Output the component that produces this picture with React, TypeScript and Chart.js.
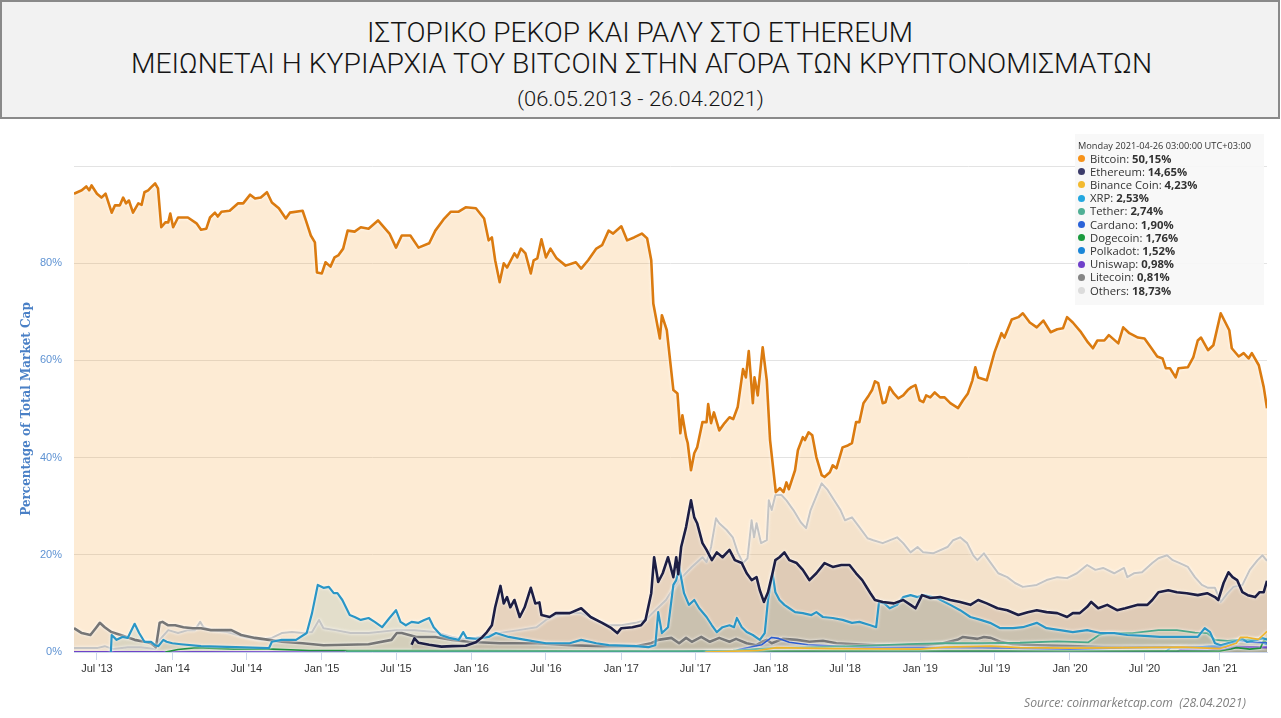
import React, { useEffect, useLayoutEffect, useRef } from "react";
import { Chart, registerables } from "chart.js";

Chart.register(...registerables);

// ---------------- DATA ----------------
const START_DATE = "2013-05-06";
const END_DATE = "2021-04-26";

const tickDates = [
  "2013-07-01", "2014-01-01", "2014-07-01", "2015-01-01", "2015-07-01", "2016-01-01",
  "2016-07-01", "2017-01-01", "2017-07-01", "2018-01-01", "2018-07-01", "2019-01-01",
  "2019-07-01", "2020-01-01", "2020-07-01", "2021-01-01",
];
const tickLabels = [
  "Jul '13", "Jan '14", "Jul '14", "Jan '15", "Jul '15", "Jan '16", "Jul '16", "Jan '17",
  "Jul '17", "Jan '18", "Jul '18", "Jan '19", "Jul '19", "Jan '20", "Jul '20", "Jan '21",
];
const yTickValues = [0, 20, 40, 60, 80, 100];

const bitcoin: [string, number][] = [
  ["2013-05-06", 94.3], ["2013-05-25", 95.0], ["2013-06-05", 95.8], ["2013-06-12", 95.0], ["2013-06-18", 96.0],
  ["2013-07-01", 94.3], ["2013-07-12", 93.5], ["2013-07-22", 94.3], ["2013-08-06", 90.4], ["2013-08-14", 91.9],
  ["2013-08-26", 91.9], ["2013-09-03", 93.5], ["2013-09-10", 92.3], ["2013-09-17", 92.9], ["2013-09-27", 90.4],
  ["2013-10-10", 92.3], ["2013-10-18", 92.0], ["2013-10-25", 94.6], ["2013-11-03", 95.0], ["2013-11-10", 95.6],
  ["2013-11-20", 96.4], ["2013-11-27", 95.4], ["2013-12-05", 87.4], ["2013-12-15", 88.4], ["2013-12-22", 88.4],
  ["2013-12-27", 90.2], ["2014-01-03", 87.4], ["2014-01-15", 89.4], ["2014-02-08", 89.4], ["2014-03-01", 88.2],
  ["2014-03-12", 86.9], ["2014-03-25", 87.1], ["2014-04-03", 89.4], ["2014-04-15", 90.4], ["2014-04-22", 89.6],
  ["2014-05-01", 90.6], ["2014-05-21", 90.8], ["2014-06-10", 92.3], ["2014-06-23", 92.3], ["2014-07-10", 94.1],
  ["2014-07-22", 93.3], ["2014-08-05", 93.5], ["2014-08-20", 94.6], ["2014-09-01", 92.5], ["2014-09-18", 91.3],
  ["2014-10-05", 89.2], ["2014-10-15", 90.4], ["2014-11-15", 90.8], ["2014-11-23", 88.8], ["2014-12-05", 85.7],
  ["2014-12-15", 84.3], ["2014-12-20", 78.1], ["2015-01-01", 77.9], ["2015-01-10", 80.2], ["2015-01-22", 79.3],
  ["2015-02-01", 81.2], ["2015-02-10", 81.6], ["2015-02-22", 83.0], ["2015-03-05", 86.7], ["2015-03-22", 86.5],
  ["2015-04-06", 87.4], ["2015-04-25", 87.1], ["2015-05-18", 88.8], ["2015-06-15", 86.1], ["2015-07-01", 83.2],
  ["2015-07-15", 85.7], ["2015-08-05", 85.7], ["2015-08-25", 83.2], ["2015-09-20", 84.1], ["2015-10-05", 86.7],
  ["2015-10-25", 89.0], ["2015-11-12", 90.6], ["2015-12-01", 90.6], ["2015-12-18", 91.5], ["2016-01-12", 91.3],
  ["2016-02-01", 89.2], ["2016-02-12", 84.7], ["2016-02-20", 85.3], ["2016-02-28", 80.6], ["2016-03-10", 76.1],
  ["2016-03-20", 80.0], ["2016-03-28", 79.1], ["2016-04-15", 82.0], ["2016-04-22", 81.2], ["2016-05-01", 83.0],
  ["2016-05-12", 82.0], ["2016-05-25", 77.9], ["2016-06-01", 80.6], ["2016-06-10", 81.0], ["2016-06-20", 84.9],
  ["2016-07-01", 81.2], ["2016-07-12", 83.0], ["2016-07-27", 81.0], ["2016-08-18", 79.5], ["2016-09-12", 80.2],
  ["2016-09-25", 78.9], ["2016-10-12", 80.6], ["2016-11-01", 83.0], ["2016-11-15", 83.7], ["2016-12-01", 86.7],
  ["2016-12-12", 86.1], ["2017-01-01", 87.6], ["2017-01-15", 84.7], ["2017-02-01", 85.3], ["2017-02-20", 86.1],
  ["2017-03-05", 85.1], ["2017-03-15", 80.6], ["2017-03-20", 71.7], ["2017-04-05", 64.5], ["2017-04-10", 69.3],
  ["2017-04-22", 66.2], ["2017-05-08", 53.9], ["2017-05-18", 53.2], ["2017-05-25", 45.0], ["2017-05-30", 48.7],
  ["2017-06-08", 44.2], ["2017-06-12", 43.0], ["2017-06-20", 37.4], ["2017-06-28", 40.9], ["2017-07-05", 42.1],
  ["2017-07-18", 47.3], ["2017-07-28", 47.3], ["2017-08-01", 51.0], ["2017-08-08", 47.1], ["2017-08-15", 49.3],
  ["2017-08-28", 45.6], ["2017-09-10", 47.1], ["2017-09-22", 48.3], ["2017-10-01", 47.9], ["2017-10-12", 50.4],
  ["2017-10-25", 58.2], ["2017-11-01", 56.5], ["2017-11-08", 61.9], ["2017-11-18", 51.2], ["2017-11-22", 56.5],
  ["2017-11-30", 52.8], ["2017-12-12", 62.7], ["2017-12-22", 55.9], ["2017-12-30", 43.6], ["2018-01-13", 32.9],
  ["2018-01-23", 33.7], ["2018-02-01", 32.9], ["2018-02-08", 34.9], ["2018-02-14", 33.5], ["2018-03-01", 37.4],
  ["2018-03-08", 41.5], ["2018-03-20", 44.2], ["2018-03-25", 43.6], ["2018-04-03", 45.2], ["2018-04-12", 44.6],
  ["2018-04-22", 40.1], ["2018-05-05", 36.4], ["2018-05-12", 36.0], ["2018-05-25", 37.0], ["2018-06-01", 38.4],
  ["2018-06-10", 37.8], ["2018-06-25", 42.1], ["2018-07-08", 42.5], ["2018-07-18", 43.0], ["2018-07-28", 47.3],
  ["2018-08-05", 47.3], ["2018-08-15", 51.2], ["2018-08-28", 52.8], ["2018-09-05", 53.9], ["2018-09-12", 55.7],
  ["2018-09-20", 55.3], ["2018-10-01", 51.2], ["2018-10-08", 51.4], ["2018-10-18", 54.5], ["2018-10-28", 53.2],
  ["2018-11-08", 52.2], ["2018-11-20", 52.8], ["2018-12-01", 53.9], ["2018-12-10", 54.5], ["2018-12-20", 54.9],
  ["2018-12-30", 51.8], ["2019-01-08", 51.4], ["2019-01-15", 52.8], ["2019-01-25", 52.4], ["2019-02-05", 53.4],
  ["2019-02-18", 52.4], ["2019-03-01", 52.4], ["2019-03-15", 51.2], ["2019-04-03", 50.2], ["2019-04-15", 51.8],
  ["2019-04-27", 53.2], ["2019-05-08", 55.9], ["2019-05-15", 58.6], ["2019-05-22", 56.5], ["2019-06-12", 55.9],
  ["2019-07-01", 61.7], ["2019-07-18", 65.6], ["2019-07-25", 64.7], ["2019-08-12", 68.4], ["2019-08-28", 68.9],
  ["2019-09-08", 69.7], ["2019-09-25", 67.8], ["2019-10-12", 66.8], ["2019-10-28", 68.2], ["2019-11-15", 65.8],
  ["2019-12-01", 66.4], ["2019-12-15", 66.6], ["2019-12-25", 68.9], ["2020-01-08", 67.8], ["2020-01-28", 65.8],
  ["2020-02-14", 63.7], ["2020-02-26", 62.5], ["2020-03-08", 64.1], ["2020-03-25", 64.1], ["2020-04-05", 65.2],
  ["2020-04-28", 63.5], ["2020-05-10", 66.8], ["2020-05-25", 65.6], ["2020-06-15", 64.7], ["2020-07-01", 64.5],
  ["2020-07-18", 62.5], ["2020-08-01", 60.8], ["2020-08-14", 60.4], ["2020-08-22", 58.4], ["2020-09-01", 58.4],
  ["2020-09-15", 56.5], ["2020-09-22", 58.4], ["2020-10-15", 58.6], ["2020-10-28", 60.6], ["2020-11-08", 64.1],
  ["2020-11-16", 64.7], ["2020-12-03", 62.1], ["2020-12-16", 63.1], ["2021-01-03", 69.7], ["2021-01-24", 66.2],
  ["2021-01-30", 62.5], ["2021-02-16", 60.8], ["2021-02-28", 61.5], ["2021-03-12", 60.4], ["2021-03-20", 61.5],
  ["2021-04-06", 59.0], ["2021-04-18", 54.5], ["2021-04-26", 50.15],
];

const ethereum: [string, number][] = [
  ["2015-08-08", 1.5], ["2015-08-15", 2.8], ["2015-08-25", 1.9], ["2015-09-20", 1.5], ["2015-10-20", 1.1],
  ["2015-11-15", 1.2], ["2015-12-18", 1.3], ["2016-01-12", 2.0], ["2016-01-28", 3.1], ["2016-02-08", 4.1],
  ["2016-02-20", 5.5], ["2016-02-28", 9.2], ["2016-03-12", 13.6], ["2016-03-20", 10.0], ["2016-03-28", 11.3],
  ["2016-04-05", 9.2], ["2016-04-15", 10.7], ["2016-04-28", 7.2], ["2016-05-10", 9.2], ["2016-05-25", 13.2],
  ["2016-06-05", 10.0], ["2016-06-15", 10.2], ["2016-06-20", 7.6], ["2016-07-10", 7.2], ["2016-07-25", 8.0],
  ["2016-08-28", 8.0], ["2016-09-25", 9.0], ["2016-10-18", 7.2], ["2016-11-15", 6.0], ["2016-12-08", 4.9],
  ["2016-12-22", 3.9], ["2017-01-01", 4.9], ["2017-01-28", 5.1], ["2017-02-18", 5.5], ["2017-03-01", 6.6],
  ["2017-03-15", 12.1], ["2017-03-22", 19.5], ["2017-04-01", 14.4], ["2017-04-12", 16.2], ["2017-04-25", 19.5],
  ["2017-05-08", 15.4], ["2017-05-15", 19.5], ["2017-05-20", 16.0], ["2017-05-27", 21.6], ["2017-06-08", 25.7],
  ["2017-06-20", 31.2], ["2017-06-28", 27.7], ["2017-07-05", 26.5], ["2017-07-18", 22.4], ["2017-07-28", 21.0],
  ["2017-08-10", 18.9], ["2017-08-22", 20.5], ["2017-09-05", 19.5], ["2017-09-22", 21.0], ["2017-10-05", 18.9],
  ["2017-10-22", 18.3], ["2017-11-03", 16.2], ["2017-11-15", 14.8], ["2017-11-27", 15.4], ["2017-12-05", 12.7],
  ["2017-12-15", 10.3], ["2017-12-25", 12.3], ["2018-01-05", 16.2], ["2018-01-12", 18.9], ["2018-01-22", 19.5],
  ["2018-02-03", 20.5], ["2018-02-15", 18.9], ["2018-03-05", 18.3], ["2018-03-20", 16.9], ["2018-04-05", 14.8],
  ["2018-04-22", 16.2], ["2018-05-12", 18.3], ["2018-06-01", 17.5], ["2018-06-22", 17.9], ["2018-07-12", 17.9],
  ["2018-07-28", 16.2], ["2018-08-12", 14.8], ["2018-09-01", 12.1], ["2018-09-12", 10.7], ["2018-10-01", 10.3],
  ["2018-10-28", 10.0], ["2018-11-20", 10.7], ["2018-12-08", 9.7], ["2018-12-20", 9.0], ["2019-01-05", 11.7],
  ["2019-01-25", 11.1], ["2019-02-18", 11.3], ["2019-03-15", 10.7], ["2019-04-08", 10.3], ["2019-05-03", 9.7],
  ["2019-05-22", 10.7], ["2019-06-12", 10.0], ["2019-07-08", 9.0], ["2019-08-01", 8.6], ["2019-08-28", 7.6],
  ["2019-09-20", 8.2], ["2019-10-12", 8.6], ["2019-11-05", 8.2], ["2019-12-01", 8.0], ["2019-12-25", 7.2],
  ["2020-01-08", 8.0], ["2020-01-25", 8.0], ["2020-02-12", 9.3], ["2020-02-22", 10.3], ["2020-03-10", 9.0],
  ["2020-04-01", 9.7], ["2020-04-25", 8.6], ["2020-05-15", 9.0], ["2020-06-15", 9.7], ["2020-07-08", 9.7],
  ["2020-07-20", 10.7], ["2020-08-04", 12.3], ["2020-08-28", 12.7], ["2020-09-18", 12.3], ["2020-10-12", 12.1],
  ["2020-11-08", 11.7], ["2020-12-01", 12.1], ["2020-12-20", 11.3], ["2020-12-28", 10.7], ["2021-01-10", 14.2],
  ["2021-01-22", 16.4], ["2021-02-01", 15.4], ["2021-02-12", 14.8], ["2021-02-25", 12.3], ["2021-03-10", 11.7],
  ["2021-03-28", 11.3], ["2021-04-08", 12.3], ["2021-04-18", 12.3], ["2021-04-26", 14.65],
];

const binanceCoin: [string, number][] = [
  ["2017-07-25", 0], ["2017-12-01", 0.3], ["2018-01-15", 0.9], ["2018-06-01", 0.7], ["2019-01-01", 0.6],
  ["2019-03-01", 1.0], ["2019-06-22", 1.2], ["2019-09-01", 0.9], ["2020-01-01", 0.8], ["2020-06-01", 0.9],
  ["2020-10-01", 1.0], ["2021-01-01", 0.7], ["2021-02-10", 1.8], ["2021-02-20", 3.0], ["2021-03-10", 3.0],
  ["2021-04-05", 2.6], ["2021-04-18", 3.6], ["2021-04-26", 4.23],
];

const xrp: [string, number][] = [
  ["2013-08-04", 0], ["2013-08-06", 3.5], ["2013-08-18", 2.5], ["2013-09-01", 3.1], ["2013-09-14", 2.9],
  ["2013-10-01", 5.8], ["2013-10-12", 3.9], ["2013-10-25", 2.1], ["2013-11-10", 2.1], ["2013-11-20", 1.4],
  ["2013-11-28", 1.2], ["2013-12-10", 2.5], ["2013-12-18", 2.1], ["2014-01-01", 1.8], ["2014-01-22", 1.6],
  ["2014-03-12", 1.2], ["2014-06-05", 1.0], ["2014-08-25", 0.8], ["2014-09-01", 2.1], ["2014-09-25", 2.5],
  ["2014-10-30", 2.5], ["2014-11-25", 3.9], ["2014-12-08", 8.0], ["2014-12-22", 13.8], ["2015-01-05", 13.2],
  ["2015-01-18", 13.4], ["2015-01-30", 12.1], ["2015-02-08", 12.1], ["2015-02-20", 10.7], ["2015-03-10", 7.6],
  ["2015-03-22", 7.2], ["2015-04-06", 6.6], ["2015-04-25", 7.0], ["2015-05-10", 6.2], ["2015-05-28", 5.1],
  ["2015-06-15", 7.0], ["2015-07-01", 8.6], ["2015-07-12", 6.2], ["2015-07-25", 5.5], ["2015-08-08", 6.2],
  ["2015-08-25", 6.0], ["2015-09-08", 6.6], ["2015-09-20", 7.0], ["2015-10-01", 5.1], ["2015-10-18", 3.5],
  ["2015-11-08", 2.9], ["2015-12-01", 2.5], ["2015-12-12", 4.1], ["2015-12-20", 2.9], ["2016-01-12", 2.7],
  ["2016-02-12", 3.1], ["2016-03-01", 3.9], ["2016-04-01", 3.1], ["2016-05-12", 2.5], ["2016-07-01", 1.8],
  ["2016-08-28", 1.8], ["2016-09-25", 2.5], ["2016-11-01", 1.8], ["2016-12-01", 1.4], ["2017-02-05", 1.2],
  ["2017-03-08", 1.0], ["2017-03-25", 1.4], ["2017-04-01", 8.2], ["2017-04-10", 3.9], ["2017-04-25", 5.1],
  ["2017-05-08", 13.8], ["2017-05-15", 14.8], ["2017-05-22", 17.5], ["2017-05-28", 14.8], ["2017-06-03", 12.1],
  ["2017-06-15", 9.7], ["2017-06-28", 10.7], ["2017-07-10", 9.0], ["2017-07-28", 7.2], ["2017-08-10", 5.5],
  ["2017-08-22", 4.1], ["2017-09-05", 5.1], ["2017-09-22", 5.5], ["2017-10-03", 5.1], ["2017-10-10", 7.0],
  ["2017-10-22", 5.1], ["2017-11-03", 4.1], ["2017-11-18", 3.5], ["2017-12-05", 2.5], ["2017-12-17", 3.9],
  ["2017-12-25", 10.7], ["2018-01-03", 15.4], ["2018-01-05", 16.2], ["2018-01-12", 12.3], ["2018-01-22", 10.7],
  ["2018-02-03", 9.7], ["2018-02-15", 9.0], ["2018-03-01", 8.2], ["2018-03-20", 8.0], ["2018-04-10", 7.6],
  ["2018-04-22", 8.2], ["2018-05-08", 7.2], ["2018-06-01", 7.0], ["2018-06-25", 6.6], ["2018-07-18", 6.0],
  ["2018-08-05", 6.2], ["2018-09-01", 5.5], ["2018-09-15", 5.1], ["2018-09-22", 10.3], ["2018-10-05", 10.0],
  ["2018-10-18", 9.0], ["2018-11-05", 9.7], ["2018-11-20", 11.3], ["2018-12-08", 11.7], ["2018-12-25", 11.3],
  ["2019-01-08", 11.7], ["2019-02-10", 11.1], ["2019-03-15", 9.7], ["2019-04-08", 8.6], ["2019-05-03", 7.2],
  ["2019-05-28", 6.6], ["2019-06-20", 6.0], ["2019-07-15", 4.9], ["2019-08-15", 4.9], ["2019-09-08", 5.1],
  ["2019-10-12", 6.0], ["2019-11-05", 4.9], ["2019-12-08", 4.5], ["2020-01-08", 4.1], ["2020-02-12", 4.5],
  ["2020-03-15", 3.9], ["2020-04-18", 3.9], ["2020-05-20", 3.5], ["2020-07-01", 3.3], ["2020-08-08", 3.1],
  ["2020-09-18", 3.1], ["2020-11-08", 3.1], ["2020-11-25", 4.9], ["2020-12-08", 4.1], ["2020-12-20", 1.8],
  ["2021-01-03", 1.4], ["2021-01-20", 1.8], ["2021-02-03", 2.1], ["2021-02-25", 2.7], ["2021-03-08", 2.1],
  ["2021-04-03", 2.5], ["2021-04-15", 2.9], ["2021-04-26", 2.53],
];

const tether: [string, number][] = [
  ["2015-03-01", 0], ["2016-06-01", 0.05], ["2017-01-01", 0.1], ["2017-06-01", 0.1], ["2017-10-01", 0.3],
  ["2018-01-01", 0.8], ["2018-03-01", 0.9], ["2018-06-01", 1.1], ["2018-09-01", 1.3], ["2018-12-01", 1.6],
  ["2019-03-01", 1.8], ["2019-06-01", 1.8], ["2019-09-01", 1.9], ["2019-12-01", 2.2], ["2020-02-15", 2.0],
  ["2020-03-12", 3.5], ["2020-04-01", 3.9], ["2020-06-01", 3.9], ["2020-08-04", 4.5], ["2020-09-18", 4.5],
  ["2020-11-01", 4.0], ["2020-12-01", 3.9], ["2020-12-20", 2.5], ["2021-01-20", 2.3], ["2021-02-15", 2.5],
  ["2021-03-20", 2.6], ["2021-04-26", 2.74],
];

const cardano: [string, number][] = [
  ["2017-10-01", 0], ["2017-10-15", 0.5], ["2017-12-10", 1.5], ["2018-01-03", 3.0], ["2018-01-20", 2.8],
  ["2018-02-15", 2.0], ["2018-04-01", 1.5], ["2018-07-01", 1.1], ["2018-10-01", 0.9], ["2019-01-01", 0.9],
  ["2019-06-01", 0.9], ["2020-01-01", 0.6], ["2020-06-01", 0.9], ["2020-09-01", 1.0], ["2020-12-01", 0.9],
  ["2021-01-15", 1.0], ["2021-02-20", 2.4], ["2021-03-20", 2.0], ["2021-04-26", 1.90],
];

const dogecoin: [string, number][] = [
  ["2013-12-15", 0], ["2014-01-15", 0.5], ["2014-03-01", 0.9], ["2014-06-01", 0.6], ["2014-09-01", 0.6],
  ["2014-12-01", 0.3], ["2015-06-01", 0.3], ["2016-01-01", 0.3], ["2017-01-01", 0.2], ["2018-01-01", 0.2],
  ["2019-01-01", 0.2], ["2020-01-01", 0.2], ["2021-01-01", 0.2], ["2021-01-28", 0.6], ["2021-02-10", 0.9],
  ["2021-03-15", 0.6], ["2021-04-10", 0.8], ["2021-04-18", 2.4], ["2021-04-26", 1.76],
];

const polkadot: [string, number][] = [
  ["2020-08-20", 0], ["2020-09-05", 1.0], ["2020-10-15", 0.9], ["2020-12-01", 1.1], ["2021-01-10", 1.3],
  ["2021-02-15", 2.4], ["2021-03-15", 2.0], ["2021-04-10", 2.0], ["2021-04-26", 1.52],
];

const uniswap: [string, number][] = [
  ["2013-05-06", 0], ["2020-09-17", 0], ["2020-09-25", 0.4], ["2020-12-01", 0.3], ["2021-01-15", 0.6],
  ["2021-02-15", 1.0], ["2021-03-15", 1.0], ["2021-04-26", 0.98],
];

const litecoin: [string, number][] = [
  ["2013-05-06", 4.9], ["2013-05-25", 3.9], ["2013-06-15", 3.5], ["2013-06-28", 4.9], ["2013-07-08", 6.0],
  ["2013-07-20", 5.1], ["2013-08-05", 4.1], ["2013-08-28", 3.5], ["2013-10-01", 2.5], ["2013-10-25", 2.1],
  ["2013-11-10", 1.8], ["2013-11-22", 1.0], ["2013-12-01", 6.0], ["2013-12-08", 6.2], ["2013-12-22", 5.5],
  ["2014-01-08", 5.5], ["2014-01-28", 5.1], ["2014-02-20", 4.9], ["2014-03-12", 4.9], ["2014-04-05", 4.5],
  ["2014-05-25", 4.5], ["2014-06-18", 3.5], ["2014-07-22", 2.9], ["2014-08-25", 2.5], ["2014-09-25", 2.1],
  ["2014-11-15", 1.8], ["2015-01-05", 1.4], ["2015-04-25", 1.6], ["2015-06-20", 2.5], ["2015-07-03", 3.9],
  ["2015-07-15", 3.9], ["2015-08-20", 3.1], ["2015-10-05", 3.1], ["2015-11-15", 2.5], ["2015-12-25", 2.1],
  ["2016-03-10", 1.8], ["2016-06-10", 1.8], ["2016-08-28", 1.4], ["2016-11-15", 1.2], ["2017-02-05", 1.2],
  ["2017-03-15", 1.8], ["2017-04-01", 2.5], ["2017-05-03", 2.9], ["2017-05-22", 1.8], ["2017-06-08", 2.9],
  ["2017-06-22", 2.1], ["2017-07-15", 3.1], ["2017-08-05", 2.1], ["2017-08-28", 2.9], ["2017-09-22", 2.1],
  ["2017-10-08", 2.7], ["2017-11-03", 1.8], ["2017-11-27", 1.4], ["2017-12-10", 2.1], ["2017-12-22", 2.5],
  ["2018-01-03", 1.8], ["2018-01-30", 2.7], ["2018-03-05", 2.5], ["2018-04-05", 2.1], ["2018-05-08", 2.3],
  ["2018-06-10", 1.8], ["2018-07-28", 1.6], ["2018-09-15", 1.4], ["2018-11-20", 1.4], ["2019-01-08", 1.4],
  ["2019-02-25", 1.8], ["2019-04-01", 2.5], ["2019-04-15", 3.1], ["2019-05-20", 2.7], ["2019-06-05", 3.1],
  ["2019-06-22", 2.9], ["2019-07-15", 2.1], ["2019-08-15", 1.6], ["2019-10-12", 1.4], ["2020-01-01", 1.2],
  ["2020-03-22", 1.0], ["2020-06-15", 1.0], ["2020-09-01", 1.0], ["2020-11-20", 1.0], ["2021-01-10", 1.2],
  ["2021-03-01", 1.0], ["2021-04-26", 0.81],
];

const others: [string, number][] = [
  ["2013-05-06", 0.8], ["2013-07-01", 0.8], ["2013-07-20", 1.2], ["2013-08-10", 0.6], ["2013-09-15", 1.0],
  ["2013-10-15", 1.0], ["2013-11-20", 0.6], ["2013-12-01", 2.5], ["2013-12-22", 4.5], ["2014-01-15", 3.9],
  ["2014-02-08", 4.5], ["2014-02-25", 4.5], ["2014-03-10", 6.2], ["2014-03-18", 5.1], ["2014-04-05", 4.5],
  ["2014-05-15", 4.1], ["2014-06-28", 3.1], ["2014-08-05", 2.5], ["2014-09-01", 2.9], ["2014-09-25", 3.9],
  ["2014-10-20", 4.1], ["2014-11-15", 3.9], ["2014-12-08", 4.1], ["2014-12-25", 6.6], ["2015-01-05", 4.9],
  ["2015-02-03", 4.5], ["2015-03-12", 3.9], ["2015-04-25", 3.9], ["2015-07-01", 4.5], ["2015-08-15", 4.5],
  ["2015-10-05", 4.1], ["2015-11-15", 3.1], ["2015-12-25", 2.5], ["2016-02-05", 3.5], ["2016-03-10", 3.9],
  ["2016-04-25", 4.5], ["2016-06-08", 5.1], ["2016-07-01", 6.6], ["2016-07-25", 7.6], ["2016-08-28", 8.0],
  ["2016-09-25", 8.0], ["2016-11-01", 6.6], ["2016-12-01", 5.5], ["2017-01-01", 5.5], ["2017-02-05", 6.0],
  ["2017-03-01", 6.6], ["2017-03-25", 8.6], ["2017-04-20", 10.7], ["2017-05-05", 12.7], ["2017-05-22", 14.8],
  ["2017-06-22", 17.5], ["2017-07-18", 19.5], ["2017-07-28", 18.5], ["2017-08-08", 21.6], ["2017-08-20", 27.5],
  ["2017-08-28", 26.5], ["2017-09-15", 25.1], ["2017-09-30", 23.6], ["2017-10-12", 20.5], ["2017-10-25", 18.3],
  ["2017-11-05", 19.3], ["2017-11-15", 27.1], ["2017-11-21", 23.6], ["2017-11-27", 26.5], ["2017-12-08", 22.4],
  ["2017-12-22", 23.0], ["2017-12-27", 31.2], ["2018-01-03", 29.2], ["2018-01-12", 32.3], ["2018-01-27", 32.3],
  ["2018-02-08", 31.2], ["2018-02-25", 29.2], ["2018-03-15", 26.7], ["2018-03-28", 25.5], ["2018-04-08", 29.2],
  ["2018-04-25", 32.7], ["2018-05-05", 34.7], ["2018-05-20", 33.3], ["2018-06-01", 31.7], ["2018-06-20", 29.2],
  ["2018-07-01", 27.1], ["2018-07-18", 27.7], ["2018-08-05", 25.7], ["2018-08-25", 23.4], ["2018-09-08", 23.0],
  ["2018-10-01", 22.4], ["2018-11-05", 23.6], ["2018-11-20", 22.4], ["2018-12-08", 20.5], ["2018-12-25", 21.6],
  ["2019-01-08", 20.5], ["2019-02-01", 20.3], ["2019-03-08", 21.6], ["2019-03-22", 23.0], ["2019-04-08", 23.6],
  ["2019-04-25", 22.4], ["2019-05-10", 19.9], ["2019-05-20", 18.9], ["2019-06-05", 20.3], ["2019-06-22", 18.3],
  ["2019-07-10", 16.2], ["2019-08-01", 15.4], ["2019-08-20", 14.2], ["2019-09-08", 13.4], ["2019-10-12", 13.8],
  ["2019-11-05", 14.8], ["2019-12-01", 15.4], ["2019-12-25", 15.2], ["2020-01-18", 16.2], ["2020-02-12", 17.9],
  ["2020-03-03", 16.9], ["2020-03-22", 17.3], ["2020-04-18", 16.2], ["2020-05-12", 17.3], ["2020-05-20", 15.4],
  ["2020-06-05", 16.2], ["2020-06-25", 16.4], ["2020-07-20", 18.3], ["2020-08-04", 19.3], ["2020-08-25", 19.9],
  ["2020-09-08", 18.9], ["2020-09-25", 18.3], ["2020-10-15", 17.5], ["2020-11-01", 15.4], ["2020-11-18", 13.8],
  ["2020-12-03", 13.2], ["2020-12-20", 13.2], ["2021-01-03", 10.3], ["2021-01-20", 12.1], ["2021-02-03", 13.4],
  ["2021-02-25", 13.8], ["2021-03-15", 16.9], ["2021-04-03", 18.9], ["2021-04-15", 19.9], ["2021-04-26", 18.73],
];

const seriesNames = [
  "Bitcoin", "Ethereum", "Binance Coin", "XRP", "Tether", "Cardano",
  "Dogecoin", "Polkadot", "Uniswap", "Litecoin", "Others",
];
const seriesValues = [
  bitcoin, ethereum, binanceCoin, xrp, tether, cardano, dogecoin, polkadot, uniswap, litecoin, others,
];

const TITLE_1 = "ΙΣΤΟΡΙΚΟ ΡΕΚΟΡ ΚΑΙ ΡΑΛΥ ΣΤΟ ETHEREUM";
const TITLE_2 = "ΜΕΙΩΝΕΤΑΙ Η ΚΥΡΙΑΡΧΙΑ ΤΟΥ BITCOIN ΣΤΗΝ ΑΓΟΡΑ ΤΩΝ ΚΡΥΠΤΟΝΟΜΙΣΜΑΤΩΝ";
const TITLE_3 = "(06.05.2013 - 26.04.2021)";
const SOURCE = "Source: coinmarketcap.com  (28.04.2021)";
const TOOLTIP_HEADER = "Monday 2021-04-26 03:00:00 UTC+03:00";
const Y_TITLE = "Percentage of Total Market Cap";

// ---------------- STYLES ----------------
const seriesStyles = [
  { line: "#db7b10", fill: "rgba(247,147,26,0.19)", dot: "#f7931a", width: 2.6 },
  { line: "#1d1e44", fill: "rgba(70,55,75,0.15)", dot: "#3c3c6a", width: 2.6 },
  { line: "#f0b52a", fill: "rgba(243,186,47,0.10)", dot: "#f3ba2f", width: 1.6 },
  { line: "#2a96c6", fill: "rgba(40,145,175,0.15)", dot: "#23a7e0", width: 2.2 },
  { line: "#4aa88a", fill: "rgba(80,175,149,0.12)", dot: "#50af95", width: 1.8 },
  { line: "#2a5ad0", fill: "rgba(42,90,218,0.08)", dot: "#2a62d8", width: 1.6 },
  { line: "#1e8f3e", fill: "rgba(30,143,62,0.08)", dot: "#1a9a3e", width: 1.6 },
  { line: "#1a84d4", fill: "rgba(26,132,212,0.08)", dot: "#1a86d8", width: 1.6 },
  { line: "#6e42c8", fill: "rgba(110,66,200,0.08)", dot: "#6f3fca", width: 2.0 },
  { line: "#767676", fill: "rgba(120,120,120,0.10)", dot: "#858585", width: 2.6 },
  { line: "#c4c4c4", fill: "rgba(205,205,205,0.22)", dot: "#dcdcdc", width: 2.0 },
];

const dayOf = (s: string) => {
  const [y, m, d] = s.split("-").map(Number);
  return Date.UTC(y, m - 1, d) / 86400000;
};

const fmt = (v: number) => v.toFixed(2).replace(".", ",") + "%";

// soft light halo under each line, like the original's line shadow
const haloPlugin = {
  id: "halo",
  beforeDatasetDraw(chart: any) {
    const ctx = chart.ctx;
    ctx.save();
    ctx.shadowColor = "rgba(255,255,255,0.95)";
    ctx.shadowBlur = 3;
    ctx.shadowOffsetX = 0;
    ctx.shadowOffsetY = 0;
  },
  afterDatasetDraw(chart: any) {
    chart.ctx.restore();
  },
};

function FitText(props: {
  text: string; left: number; top: number; width: number; height: number;
  font: string; color: string;
}) {
  const ref = useRef<HTMLSpanElement>(null);
  useLayoutEffect(() => {
    const fit = () => {
      const el = ref.current;
      if (!el) return;
      el.style.transform = "none";
      const w = el.getBoundingClientRect().width;
      if (w > 0) el.style.transform = `scaleX(${props.width / w})`;
    };
    fit();
    if ((document as any).fonts && (document as any).fonts.ready) {
      (document as any).fonts.ready.then(fit);
    }
  }, [props.text, props.width]);
  return (
    <div
      style={{
        position: "absolute", left: props.left, top: props.top, width: props.width,
        height: props.height, lineHeight: props.height + "px", whiteSpace: "pre",
        overflow: "visible",
      }}
    >
      <span
        ref={ref}
        style={{
          display: "inline-block", transformOrigin: "left center", font: props.font,
          color: props.color, lineHeight: props.height + "px", whiteSpace: "pre",
        }}
      >
        {props.text}
      </span>
    </div>
  );
}

export default function App() {
  const canvasRef = useRef<HTMLCanvasElement>(null);

  useEffect(() => {
    const canvas = canvasRef.current;
    if (!canvas) return;
    const datasets = seriesValues.map((arr, i) => ({
      label: seriesNames[i],
      data: arr.map(([d, v]) => ({ x: dayOf(d), y: v })),
      borderColor: seriesStyles[i].line,
      backgroundColor: seriesStyles[i].fill,
      borderWidth: seriesStyles[i].width,
      fill: "origin" as const,
      pointRadius: 0,
      pointHoverRadius: 0,
      tension: 0,
      borderJoinStyle: "round" as const,
    }));

    const chart = new Chart(canvas, {
      type: "line",
      data: { datasets },
      plugins: [haloPlugin],
      options: {
        animation: false,
        responsive: false,
        maintainAspectRatio: false,
        events: [],
        layout: { padding: { left: 0, right: 14, top: 166, bottom: 36 } },
        plugins: {
          legend: { display: false },
          tooltip: { enabled: false },
          filler: { drawTime: "beforeDatasetsDraw" },
        } as any,
        scales: {
          x: {
            type: "linear",
            min: dayOf(START_DATE),
            max: dayOf(END_DATE),
            afterBuildTicks: (scale: any) => {
              scale.ticks = tickDates.map((d) => ({ value: dayOf(d) }));
            },
            afterFit: (scale: any) => {
              scale.height = 30;
            },
            ticks: {
              autoSkip: false,
              maxRotation: 0,
              minRotation: 0,
              padding: 2,
              color: "#333333",
              font: { family: "'Liberation Sans', Arial, sans-serif", size: 11 },
              callback: (_v: any, index: number) => tickLabels[index],
            },
            grid: {
              drawOnChartArea: false,
              drawTicks: true,
              tickLength: 8,
              color: "#ccd6eb",
            },
            border: { display: true, color: "#ccd6eb" },
          },
          y: {
            min: 0,
            max: 100,
            afterBuildTicks: (scale: any) => {
              scale.ticks = yTickValues.map((v) => ({ value: v }));
            },
            afterFit: (scale: any) => {
              scale.width = 74;
            },
            ticks: {
              padding: 12,
              color: "#5f93d3",
              font: { family: "'Liberation Sans', Arial, sans-serif", size: 11 },
              callback: (v: any) => (Number(v) === 100 ? "" : v + "%"),
            },
            grid: { color: "#e3e3e3", drawTicks: false },
            border: { display: false },
            title: {
              display: true,
              text: Y_TITLE,
              color: "#4a80c6",
              font: { family: "'DejaVu Serif', serif", size: 12, weight: "bold" },
              padding: { top: 20, bottom: 0 },
            },
          },
        },
      },
    });
    return () => chart.destroy();
  }, []);

  const rowTop = 150.5;
  const rowStep = 13.2;

  return (
    <div style={{ position: "absolute", left: 0, top: 0, width: 1281, height: 718, background: "#ffffff", overflow: "hidden" }}>
      <canvas
        ref={canvasRef}
        width={1281}
        height={718}
        style={{ position: "absolute", left: 0, top: 0, width: 1281, height: 718 }}
      />
      {/* title box */}
      <div
        style={{
          position: "absolute", left: 0, top: 0, width: 1280, height: 119, boxSizing: "border-box",
          border: "2px solid #8a8a8a", background: "#f2f2f2",
        }}
      />
      <FitText text={TITLE_1} left={367} top={19} width={546} height={28}
        font="300 28px Roboto, 'Open Sans', sans-serif" color="#151515" />
      <FitText text={TITLE_2} left={131} top={50} width={1021} height={28}
        font="300 28px Roboto, 'Open Sans', sans-serif" color="#151515" />
      <FitText text={TITLE_3} left={517} top={89} width={247} height={21}
        font="300 21px Roboto, 'Open Sans', sans-serif" color="#151515" />

      {/* tooltip-like box */}
      <div
        style={{
          position: "absolute", left: 1075, top: 134, width: 189, height: 171,
          background: "rgba(247,247,247,0.93)",
        }}
      />
      <FitText text={TOOLTIP_HEADER} left={1078} top={138} width={173} height={12}
        font="9px 'Open Sans', 'DejaVu Sans', sans-serif" color="#333333" />
      {seriesNames.map((name, i) => {
        const arr = seriesValues[i];
        const last = arr[arr.length - 1][1];
        return (
          <div
            key={name}
            style={{
              position: "absolute", left: 1078, top: rowTop + i * rowStep, height: 13,
              lineHeight: "13px", whiteSpace: "nowrap",
              font: "11.3px 'Open Sans', 'DejaVu Sans', sans-serif", color: "#333",
            }}
          >
            <span
              style={{
                display: "inline-block", width: 7, height: 7, borderRadius: "50%",
                background: seriesStyles[i].dot, marginRight: 5, verticalAlign: "middle",
                position: "relative", top: -1,
              }}
            />
            {name}: <b style={{ fontWeight: 700 }}>{fmt(last)}</b>
          </div>
        );
      })}

      <FitText text={SOURCE} left={1024} top={694} width={222} height={16}
        font="italic 13px 'Open Sans', 'Liberation Sans', sans-serif" color="#7f7f7f" />
    </div>
  );
}
